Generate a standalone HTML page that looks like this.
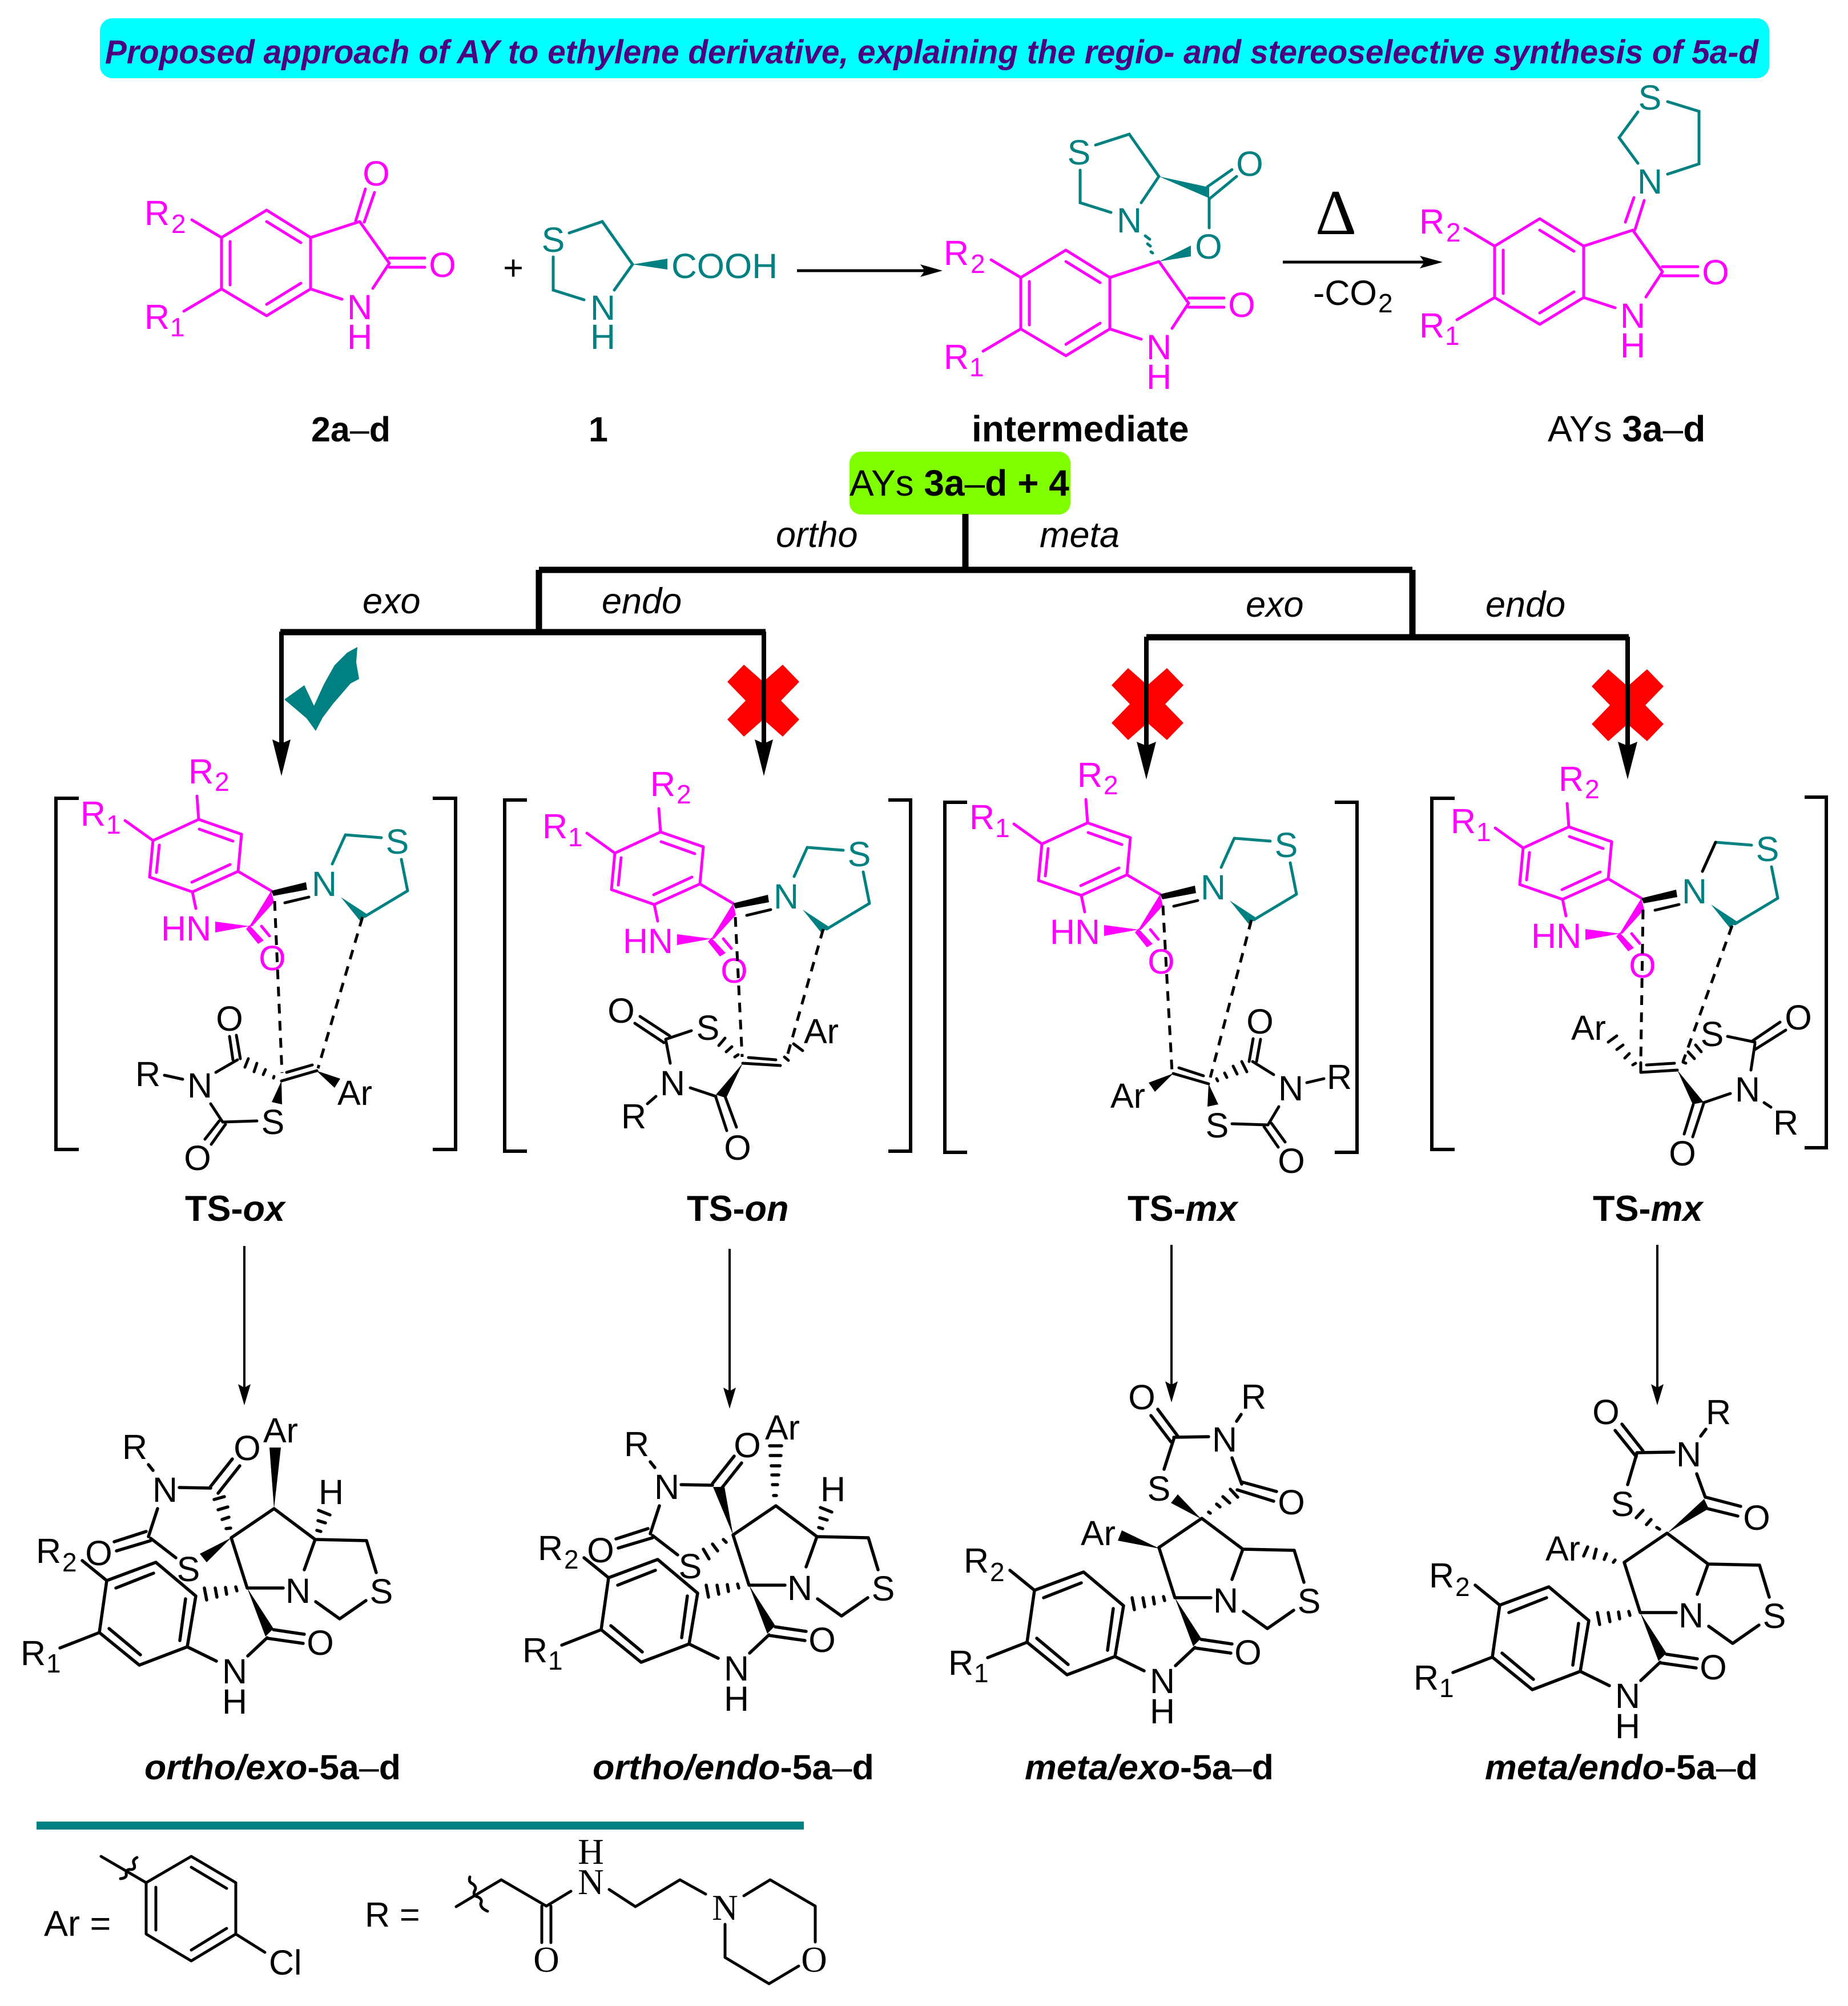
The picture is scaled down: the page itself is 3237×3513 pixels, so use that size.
<!DOCTYPE html>
<html><head><meta charset="utf-8"><style>
html,body{margin:0;padding:0;background:#fff}
svg{display:block}
text{font-family:"Liberation Sans",sans-serif;font-size:61px}
.m{text-anchor:middle}
.s{font-size:46px}
.b{font-weight:bold}
.i{font-style:italic}
.n{font-weight:normal}
.l{font-size:63px}
.f{font-family:"Liberation Serif",serif;font-size:63px}
.mg{fill:#f0f}.tl{fill:#008080}
</style></head><body>
<svg xmlns="http://www.w3.org/2000/svg" width="3237" height="3513" viewBox="0 0 3237 3513">
<defs>
<g id="oxi" fill="none" stroke="#f0f" stroke-width="5" stroke-linecap="round" stroke-linejoin="round">
<polygon points="467,368 544,416 544,506 467,553 388,506 388,416"/>
<path d="M467 388L527 425M403 423V499M467 533L527 496M544 416L630 388L682 461L653 505M544 506L599 524M682 452H744M682 468H744M388 416L336 385M388 506L322 545"/>
</g>
<g id="tstop" fill="none" stroke-linecap="round" stroke-linejoin="round">
<g stroke="#f0f" stroke-width="5">
<polygon points="348,1435 423,1461 417,1526 337,1562 262,1536 268,1472"/>
<path d="M349 1452L408 1473M403 1514L336 1545M279 1480L274 1528M268 1472L219 1437M348 1435L345 1394M417 1526L475 1560M337 1562L343 1591M458 1622L472 1639"/>
</g>
<g fill="#f0f" stroke="none">
<polygon points="475,1560 480,1580 442,1622 437,1622"/>
<polygon points="437,1622 377,1614 377,1633"/>
<polygon points="437,1620 462,1647 452,1653 431,1627"/>
</g>
<polygon points="475,1560 536,1545 538,1558 479,1569" fill="#000" stroke="none"/>
<path d="M499 1581L541 1571" stroke="#000" stroke-width="5"/>
<g stroke="#008080" stroke-width="5">
<path d="M582 1513L605 1462L668 1467M703 1505L714 1560L639 1605"/>
</g>
<polygon points="597,1571 643,1601 630,1612" fill="#008080" stroke="none"/>
</g>
<g id="core" fill="none" stroke="#000" stroke-width="5.5" stroke-linecap="round" stroke-linejoin="round">
<polygon points="187,2768 273,2736 343,2795 328,2884 244,2916 174,2859"/>
<path d="M203 2781L269 2755M325 2800L315 2873M246 2898L191 2852M187 2768L144 2733M174 2859L105 2886"/>
<path d="M358 2781L362 2802M377 2781L380 2797M395 2780L397 2792M413 2779L415 2786"/>
<polygon points="433,2781 465,2866 479,2852" fill="#000" stroke="none"/>
<path d="M479 2854L533 2862M468 2869L531 2878M468 2868L434 2900M328 2884L379 2909M433 2781H496M553 2805L595 2835L641 2803M659 2754L642 2698L552 2696L533 2749M552 2696L480 2642L405 2693L433 2781"/>
</g>
<polygon id="rx" points="-34,-63 0,-33 34,-63 63,-33 31,0 63,33 34,63 0,33 -34,63 -63,33 -31,0 -63,-33"/>
</defs>

<rect x="175" y="32" width="2924" height="105" rx="22" fill="#0ff"/>
<text x="184" y="111" textLength="2896" lengthAdjust="spacingAndGlyphs" class="b i" style="font-size:58px" fill="#4b0082">Proposed approach of AY to ethylene derivative, explaining the regio- and stereoselective synthesis of 5a-d</text>

<!-- isatin 2 -->
<use href="#oxi"/>
<g stroke="#f0f" stroke-width="5" fill="none" stroke-linecap="round"><path d="M623 387L640 331M638 389L656 337"/></g>
<g class="mg">
<text x="253" y="394">R</text><text x="300" y="408" class="s">2</text>
<text x="253" y="576">R</text><text x="298" y="589" class="s">1</text>
<text x="630" y="559" class="m">N</text><text x="630" y="611" class="m">H</text>
<text x="659" y="325" class="m">O</text><text x="775" y="485" class="m">O</text>
</g>
<text x="899" y="490" class="m">+</text>
<!-- 1 -->
<g stroke="#008080" stroke-width="5" fill="none" stroke-linecap="round"><path d="M997 408L1055 388L1108 463L1076 508M969 450V508L1023 525"/></g>
<polygon points="1108,463 1169,453 1169,472" fill="#008080"/>
<g class="tl">
<text x="969" y="441" class="m">S</text><text x="1056" y="560" class="m">N</text><text x="1056" y="611" class="m">H</text>
<text x="1176" y="487" textLength="186" lengthAdjust="spacingAndGlyphs">COOH</text>
</g>
<path d="M1396 474H1630" stroke="#000" stroke-width="5"/><polygon points="1651,474 1612,463 1620,474 1612,485"/>

<!-- intermediate -->
<g transform="translate(1400,70)"><use href="#oxi"/>
<g class="mg">
<text x="253" y="394">R</text><text x="300" y="408" class="s">2</text>
<text x="253" y="576">R</text><text x="298" y="589" class="s">1</text>
<text x="630" y="559" class="m">N</text><text x="630" y="611" class="m">H</text>
<text x="775" y="485" class="m">O</text>
</g></g>
<g stroke="#008080" stroke-width="5" fill="none" stroke-linecap="round"><path d="M1919 254L1978 235L2030 309L1999 355M1892 298V355L1946 372M2118 347V399M2115 327L2158 297M2120 347L2166 309"/>
<path d="M2006 413L2014 419M2010 427L2015 431M2016 441L2019 443"/></g>
<polygon points="2030,309 2118,328 2118,347" fill="#008080"/>
<polygon points="2030,458 2086,430 2086,449" fill="#008080"/>
<g class="tl">
<text x="1890" y="288" class="m">S</text><text x="1978" y="407" class="m">N</text>
<text x="2189" y="308" class="m">O</text><text x="2117" y="453" class="m">O</text>
</g>
<path d="M2247 459H2505" stroke="#000" stroke-width="5"/><polygon points="2527,459 2487,448 2495,459 2487,470"/>
<text x="2340" y="410" class="m" style="font-family:'Liberation Serif',serif;font-size:112px">Δ</text>
<text x="2300" y="534">-CO</text><text x="2414" y="547" class="s">2</text>

<!-- AY -->
<g transform="translate(2230,15)"><use href="#oxi"/>
<g class="mg">
<text x="256" y="394">R</text><text x="303" y="408" class="s">2</text>
<text x="256" y="576">R</text><text x="301" y="589" class="s">1</text>
<text x="630" y="559" class="m">N</text><text x="630" y="611" class="m">H</text>
<text x="775" y="483" class="m">O</text>
</g></g>
<g stroke="#f0f" stroke-width="5" fill="none" stroke-linecap="round"><path d="M2847 389L2862 346M2864 402L2880 351"/></g>
<g stroke="#008080" stroke-width="5" fill="none" stroke-linecap="round"><path d="M2869 286L2836 241L2869 196M2921 178L2976 195V287L2921 305"/></g>
<g class="tl"><text x="2890" y="339" class="m">N</text><text x="2890" y="192" class="m">S</text></g>

<text x="545" y="773" class="b">2a<tspan class="n">–</tspan>d</text>
<text x="1031" y="773" class="b">1</text>
<text x="1702" y="773" class="b" style="font-size:64px">intermediate</text>
<text x="2711" y="773" style="font-size:64px">AYs <tspan class="b">3a</tspan>–<tspan class="b">d</tspan></text>

<!-- tree -->
<rect x="1488" y="791" width="387" height="110" rx="20" fill="#7fff00"/>
<text x="1488" y="868" style="font-size:64px">AYs <tspan class="b">3a</tspan>–<tspan class="b">d + 4</tspan></text>
<g fill="none" stroke="#000" stroke-width="11">
<path d="M1691 900V998M944 998H2474M944 998V1106M2474 998V1115M491 1107H1341M2008 1116H2853"/>
</g>
<text x="1359" y="958" class="i l">ortho</text><text x="1821" y="958" class="i l">meta</text>
<text x="635" y="1074" class="i l">exo</text><text x="1054" y="1074" class="i l">endo</text>
<text x="2182" y="1080" class="i l">exo</text><text x="2602" y="1080" class="i l">endo</text>
<polygon points="626,1133 624,1160 629,1189 614,1197 583,1233 565,1257 553,1280 537,1258 516,1240 498,1225 533,1200 550,1236 568,1197 586,1165 608,1143" fill="#008080"/>
<g fill="#f00">
<use href="#rx" transform="translate(1337,1227)"/>
<use href="#rx" transform="translate(2010,1233)"/>
<use href="#rx" transform="translate(2851,1235)"/>
</g>
<g stroke="#000" stroke-width="8">
<path d="M493 1106V1320M1338 1106V1320M2008 1115V1325M2851 1115V1325"/>
</g>
<polygon points="493,1359 477,1295 493,1302 509,1295"/>
<polygon points="1338,1359 1322,1295 1338,1302 1354,1295"/>
<polygon points="2008,1365 1991,1299 2008,1306 2025,1299"/>
<polygon points="2851,1365 2834,1299 2851,1306 2868,1299"/>

<!-- TS-ox -->
<use href="#tstop"/>
<g class="mg"><text x="141" y="1446">R</text><text x="186" y="1460" class="s">1</text><text x="330" y="1372">R</text><text x="376" y="1385" class="s">2</text><text x="282" y="1647">HN</text><text x="477" y="1699" class="m">O</text></g>
<g class="tl"><text x="568" y="1569" class="m">N</text><text x="696" y="1495" class="m">S</text></g>
<g fill="none" stroke="#000" stroke-width="6"><path d="M138 1398H98V2013H138M758 1398H798V2013H758"/></g>
<g fill="none" stroke="#000" stroke-width="5" stroke-linecap="round" stroke-linejoin="round">
<path d="M481 1578L494 1879M635 1606L557 1871" stroke-dasharray="17 13" stroke-linecap="butt"/>
<path d="M493 1893L555 1875M502 1878L547 1865M402 1815L408 1856M414 1813L421 1854M288 1883L320 1890M378 1878L416 1856M369 1933L390 1965M384 1963L359 1995M395 1969L370 2004M390 1965L450 1963"/>
<path d="M429 1869L435 1854M445 1877L450 1862M461 1882L465 1873M479 1888L480 1885"/>
</g>
<polygon points="493,1893 476,1930 494,1934"/><polygon points="554,1875 596,1889 586,1905"/>
<text x="402" y="1805" class="m">O</text><text x="350" y="1922" class="m">N</text><text x="237" y="1902">R</text><text x="346" y="2049" class="m">O</text><text x="478" y="1986" class="m">S</text><text x="591" y="1935">Ar</text>
<text x="324" y="2138" class="b" style="font-size:63px">TS-<tspan class="i">ox</tspan></text>

<!-- TS-on -->
<g transform="translate(809,22)"><use href="#tstop"/>
<g class="mg"><text x="141" y="1446">R</text><text x="186" y="1460" class="s">1</text><text x="330" y="1372">R</text><text x="376" y="1385" class="s">2</text><text x="282" y="1647">HN</text><text x="477" y="1699" class="m">O</text></g>
<g class="tl"><text x="568" y="1569" class="m">N</text><text x="696" y="1495" class="m">S</text></g></g>
<g fill="none" stroke="#000" stroke-width="6"><path d="M923 1401H884V2016H923M1556 1401H1595V2016H1556"/></g>
<g fill="none" stroke="#000" stroke-width="5" stroke-linecap="round" stroke-linejoin="round">
<path d="M1288 1606L1300 1851M1442 1627L1377 1856" stroke-dasharray="17 13" stroke-linecap="butt"/>
<path d="M1301 1862L1367 1866M1311 1852L1359 1856M1121 1780L1173 1814M1112 1792L1163 1826M1166 1820L1211 1805M1166 1820L1174 1862M1209 1905L1254 1920M1254 1922L1273 1980M1270 1920L1290 1974M1134 1933L1149 1920"/>
<path d="M1259 1831L1270 1818M1272 1842L1282 1833M1287 1851L1293 1847M1390 1828L1406 1840M1374 1851L1381 1857"/>
</g>
<polygon points="1301,1862 1254,1917 1272,1923"/>
<text x="1240" y="1821" class="m">S</text><text x="1408" y="1827">Ar</text><text x="1088" y="1791" class="m">O</text><text x="1178" y="1918" class="m">N</text><text x="1292" y="2031" class="m">O</text><text x="1088" y="1976">R</text>
<text x="1203" y="2138" class="b" style="font-size:63px">TS-<tspan class="i">on</tspan></text>

<!-- TS-mx 1 -->
<g transform="translate(1557,6)"><use href="#tstop"/>
<g class="mg"><text x="141" y="1446">R</text><text x="186" y="1460" class="s">1</text><text x="330" y="1372">R</text><text x="376" y="1385" class="s">2</text><text x="282" y="1647">HN</text><text x="477" y="1699" class="m">O</text></g>
<g class="tl"><text x="568" y="1569" class="m">N</text><text x="696" y="1495" class="m">S</text></g></g>
<g fill="none" stroke="#000" stroke-width="6"><path d="M1694 1405H1655V2018H1694M2338 1405H2377V2018H2338"/></g>
<g fill="none" stroke="#000" stroke-width="5" stroke-linecap="round" stroke-linejoin="round">
<path d="M2037 1586L2053 1877M2192 1611L2120 1887" stroke-dasharray="17 13" stroke-linecap="butt"/>
<path d="M2055 1880L2117 1898M2065 1870L2108 1884M2158 1968L2221 1970M2214 1973L2239 2009M2227 1967L2251 2000M2221 1970L2240 1938M2289 1896L2319 1889M2231 1882L2194 1859M2188 1859L2195 1819M2201 1859L2208 1820"/>
<path d="M2175 1859L2184 1877M2160 1867L2167 1881M2145 1879L2149 1887M2131 1889L2133 1893"/>
</g>
<polygon points="2055,1880 2012,1896 2023,1912"/><polygon points="2117,1898 2115,1938 2134,1934"/>
<text x="1945" y="1940">Ar</text><text x="2132" y="1992" class="m">S</text><text x="2262" y="2054" class="m">O</text><text x="2261" y="1927" class="m">N</text><text x="2324" y="1907">R</text><text x="2207" y="1810" class="m">O</text>
<text x="1975" y="2138" class="b" style="font-size:63px">TS-<tspan class="i">mx</tspan></text>

<!-- TS-mx 2 -->
<g transform="translate(2400,13)"><use href="#tstop"/>
<g class="mg"><text x="141" y="1446">R</text><text x="186" y="1460" class="s">1</text><text x="330" y="1372">R</text><text x="376" y="1385" class="s">2</text><text x="282" y="1647">HN</text><text x="477" y="1699" class="m">O</text></g>
<g class="tl"><text x="568" y="1569" class="m">N</text><text x="696" y="1495" class="m">S</text></g>
<path d="M582 1513L605 1462" stroke="#000" stroke-width="5" stroke-linecap="round"/></g>
<g fill="none" stroke="#000" stroke-width="6"><path d="M2548 1398H2508V2013H2548M3161 1396H3199V2010H3161"/></g>
<g fill="none" stroke="#000" stroke-width="5" stroke-linecap="round" stroke-linejoin="round">
<path d="M2878 1593L2874 1861M3034 1621L2948 1859" stroke-dasharray="17 13" stroke-linecap="butt"/>
<path d="M2874 1861V1878L2938 1874M2884 1865L2933 1862M3026 1815L3074 1825M3068 1824L3118 1790M3074 1838L3128 1804M3074 1828L3067 1874M3031 1915L2984 1931M2966 1934L2950 1986M2984 1933L2965 1991M3090 1931L3102 1939"/>
<path d="M2817 1825L2832 1814M2832 1838L2843 1830M2846 1853L2854 1845M2860 1865L2865 1862M2957 1842L2968 1854M2970 1830L2980 1842M2948 1860L2953 1862"/>
</g>
<polygon points="2938,1874 2965,1934 2984,1930"/>
<text x="2752" y="1821">Ar</text><text x="2999" y="1832" class="m">S</text><text x="3150" y="1803" class="m">O</text><text x="3061" y="1929" class="m">N</text><text x="2947" y="2041" class="m">O</text><text x="3106" y="1987">R</text>
<text x="2790" y="2138" class="b" style="font-size:63px">TS-<tspan class="i">mx</tspan></text>

<!-- arrows to products -->
<g stroke="#000" stroke-width="4">
<path d="M428 2182V2440M1278 2187V2445M2052 2180V2435M2903 2180V2440"/>
</g>
<polygon points="428,2461 417,2424 428,2430 439,2424"/>
<polygon points="1278,2467 1267,2430 1278,2436 1289,2430"/>
<polygon points="2052,2456 2041,2419 2052,2425 2063,2419"/>
<polygon points="2903,2461 2892,2424 2903,2430 2914,2424"/>

<!-- ortho/exo -->
<use href="#core"/>
<g><text x="63" y="2737">R</text><text x="109" y="2752" class="s">2</text><text x="36" y="2916">R</text><text x="81" y="2929" class="s">1</text><text x="561" y="2898" class="m">O</text><text x="411" y="2948" class="m">N</text><text x="411" y="3001" class="m">H</text><text x="522" y="2807" class="m">N</text><text x="668" y="2808" class="m">S</text></g>
<g fill="none" stroke="#000" stroke-width="5.5" stroke-linecap="round">
<path d="M558 2645L578 2653M557 2663L570 2667M555 2680L562 2682"/>
<path d="M369 2603L407 2555M382 2615L420 2567M375 2626L393 2621M382 2644L399 2639M389 2661L401 2657M396 2677L404 2676M314 2605L369 2606M260 2565L268 2575M276 2642L260 2691M256 2682L200 2700M264 2698L204 2716M264 2694L308 2728"/>
</g>
<polygon points="480,2642 472,2535 492,2535"/><polygon points="405,2693 350,2721 362,2736"/>
<text x="580" y="2634" class="m">H</text><text x="461" y="2526">Ar</text><text x="433" y="2557" class="m">O</text><text x="289" y="2630" class="m">N</text><text x="214" y="2555">R</text><text x="173" y="2741" class="m">O</text><text x="330" y="2769" class="m">S</text>
<text x="253" y="3116" class="b" textLength="449" lengthAdjust="spacingAndGlyphs"><tspan class="i">ortho/exo</tspan>-5a<tspan class="n">–</tspan>d</text>

<!-- ortho/endo -->
<g transform="translate(879,-5)"><use href="#core"/>
<g><text x="63" y="2737">R</text><text x="109" y="2752" class="s">2</text><text x="36" y="2916">R</text><text x="81" y="2929" class="s">1</text><text x="561" y="2898" class="m">O</text><text x="411" y="2948" class="m">N</text><text x="411" y="3001" class="m">H</text><text x="522" y="2807" class="m">N</text><text x="668" y="2808" class="m">S</text></g>
<g fill="none" stroke="#000" stroke-width="5.5" stroke-linecap="round">
<path d="M558 2645L578 2653M557 2663L570 2667M555 2680L562 2682"/>
<path d="M369 2603L407 2555M382 2615L420 2567M314 2605L369 2606M260 2565L268 2575M276 2642L260 2691M256 2682L200 2700M264 2698L204 2716M264 2694L308 2728M388 2701L393 2706M369 2709L378 2721M353 2718L363 2735"/>
<path d="M469 2537H490M470 2554H489M472 2572H487M473 2588H485M474 2605H483M476 2624H481"/>
</g>
<polygon points="405,2693 370,2609 390,2609"/>
<text x="580" y="2634" class="m">H</text><text x="461" y="2526">Ar</text><text x="430" y="2557" class="m">O</text><text x="289" y="2630" class="m">N</text><text x="214" y="2555">R</text><text x="173" y="2741" class="m">O</text><text x="330" y="2769" class="m">S</text>
</g>
<text x="1038" y="3116" class="b" textLength="493" lengthAdjust="spacingAndGlyphs"><tspan class="i">ortho/endo</tspan>-5a<tspan class="n">–</tspan>d</text>

<!-- meta/exo -->
<g transform="translate(1625,17)"><use href="#core"/>
<g><text x="63" y="2737">R</text><text x="109" y="2752" class="s">2</text><text x="36" y="2916">R</text><text x="81" y="2929" class="s">1</text><text x="561" y="2898" class="m">O</text><text x="411" y="2948" class="m">N</text><text x="411" y="3001" class="m">H</text><text x="522" y="2807" class="m">N</text><text x="668" y="2808" class="m">S</text></g></g>
<g fill="none" stroke="#000" stroke-width="5.5" stroke-linecap="round">
<path d="M2117 2648L2120 2650M2131 2634L2137 2639M2142 2621L2154 2632M2155 2608L2168 2622M2174 2595L2236 2612M2167 2609L2231 2629M2158 2553L2175 2599M2174 2477L2166 2489M2117 2516L2056 2517M2056 2520L2039 2573M2028 2468L2063 2515M2016 2479L2051 2525"/>
</g>
<polygon points="2031,2712 1965,2680 1958,2698"/><polygon points="2104,2660 2063,2617 2051,2632"/>
<text x="1893" y="2706">Ar</text><text x="2030" y="2628" class="m">S</text><text x="2262" y="2652" class="m">O</text><text x="2145" y="2542" class="m">N</text><text x="2174" y="2467">R</text><text x="2000" y="2468" class="m">O</text>
<text x="1795" y="3116" class="b" textLength="436" lengthAdjust="spacingAndGlyphs"><tspan class="i">meta/exo</tspan>-5a<tspan class="n">–</tspan>d</text>

<!-- meta/endo -->
<g transform="translate(2440,43)"><use href="#core"/>
<g><text x="63" y="2737">R</text><text x="109" y="2752" class="s">2</text><text x="36" y="2916">R</text><text x="81" y="2929" class="s">1</text><text x="561" y="2898" class="m">O</text><text x="411" y="2948" class="m">N</text><text x="411" y="3001" class="m">H</text><text x="522" y="2807" class="m">N</text><text x="668" y="2808" class="m">S</text></g></g>
<g fill="none" stroke="#000" stroke-width="5.5" stroke-linecap="round">
<path d="M2774 2725L2781 2709M2792 2729L2796 2713M2810 2731L2814 2721M2826 2736L2829 2732M2902 2675L2907 2678M2884 2670L2892 2661M2866 2658L2878 2645M2988 2622L3049 2638M2991 2642L3044 2655M2972 2581L2987 2622M2988 2503L2979 2515M2932 2543L2867 2544M2867 2546L2851 2600M2841 2494L2878 2541M2829 2505L2866 2551"/>
</g>
<polygon points="2920,2685 2985,2625 2993,2642"/>
<text x="2707" y="2733">Ar</text><text x="2842" y="2655" class="m">S</text><text x="3077" y="2679" class="m">O</text><text x="2958" y="2568" class="m">N</text><text x="2988" y="2494">R</text><text x="2813" y="2494" class="m">O</text>
<text x="2601" y="3116" class="b" textLength="478" lengthAdjust="spacingAndGlyphs"><tspan class="i">meta/endo</tspan>-5a<tspan class="n">–</tspan>d</text>

<!-- bottom legend -->
<rect x="64" y="3190" width="1344" height="14" fill="#008080"/>
<text x="77" y="3390" style="font-size:63px">Ar =</text>
<g fill="none" stroke="#000" stroke-width="5" stroke-linecap="round" stroke-linejoin="round">
<polygon points="256,3297 335,3251 413,3297 413,3387 335,3434 256,3387"/>
<path d="M273 3305V3380M335 3270L397 3307M335 3415L397 3377M256 3297L177 3251M413 3387L464 3419"/>
<path d="M240 3253q-9 4 -5 12q3 9 -6 9q-8 -1 -8 7q2 8 -10 9"/>
<path d="M799 3339L878 3292L957 3338L1000 3312M949 3338V3402M965 3338V3402M1067 3309L1113 3339L1191 3292L1236 3317M1303 3320L1349 3292L1428 3338V3401M1399 3443L1347 3474L1270 3428V3370"/>
<path d="M823 3287q-3 9 5 12q8 6 3 13q-3 8 6 10q9 4 5 12q0 8 12 13"/>
</g>
<text x="471" y="3458">Cl</text>
<text x="639" y="3374">R =</text>
<text x="1035" y="3264" class="f m">H</text><text x="1035" y="3317" class="f m">N</text>
<text x="957" y="3453" class="f m">O</text><text x="1270" y="3362" class="f m">N</text><text x="1426" y="3453" class="f m">O</text>
</svg>
</body></html>
